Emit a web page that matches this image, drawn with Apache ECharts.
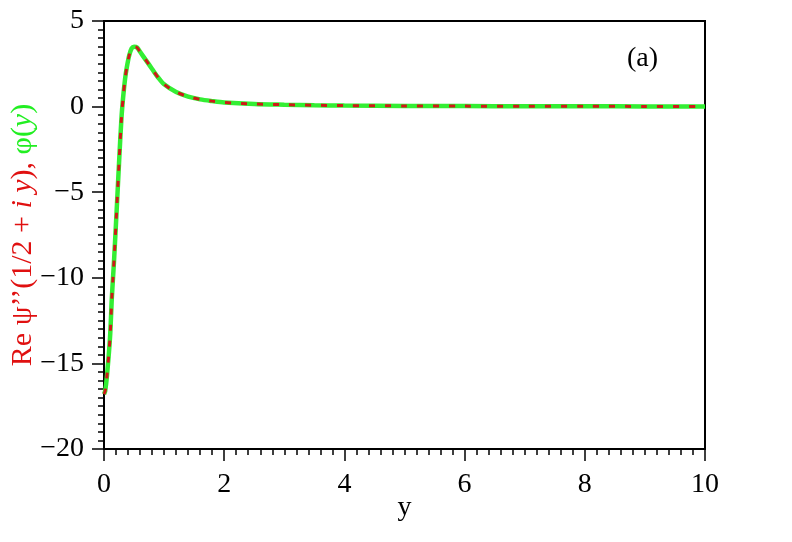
<!DOCTYPE html>
<html>
<head>
<meta charset="utf-8">
<script src="https://cdn.jsdelivr.net/npm/echarts@6/dist/echarts.min.js"></script>
<style>html,body{margin:0;padding:0;background:#fff}#c{width:792px;height:542px}</style>
</head>
<body>
<div id="c"></div>
<script>
// Sample points y (x-axis variable)
const yValues = [0, 0.02, 0.05, 0.1, 0.13, 0.15, 0.17, 0.21, 0.25, 0.29, 0.32, 0.35, 0.38, 0.42, 0.46, 0.5, 0.55, 0.6, 0.7, 0.8, 0.9, 1.0, 1.2, 1.4, 1.6, 1.8, 2.0, 2.5, 3, 3.5, 4, 5, 6, 7, 8, 9, 10];
// Re psi''(1/2 + i y)
const psiValues = [-16.8, -16.6, -15.7, -13.5, -11.2, -10.0, -8.8, -6.1, -3.3, -0.7, 0.6, 1.6, 2.3, 3.0, 3.4, 3.5, 3.45, 3.2, 2.7, 2.2, 1.7, 1.3, 0.85, 0.58, 0.42, 0.32, 0.24, 0.15, 0.11, 0.08, 0.06, 0.04, 0.028, 0.02, 0.016, 0.012, 0.01];
// phi(y), coincides with the curve above
const phiValues = [-16.8, -16.6, -15.7, -13.5, -11.2, -10.0, -8.8, -6.1, -3.3, -0.7, 0.6, 1.6, 2.3, 3.0, 3.4, 3.5, 3.45, 3.2, 2.7, 2.2, 1.7, 1.3, 0.85, 0.58, 0.42, 0.32, 0.24, 0.15, 0.11, 0.08, 0.06, 0.04, 0.028, 0.02, 0.016, 0.012, 0.01];
const xTicks = [0, 2, 4, 6, 8, 10];
const yTicks = [-20, -15, -10, -5, 0, 5];

const FONT = "'Liberation Serif', 'Times New Roman', serif";
const chart = echarts.init(document.getElementById('c'), null, {renderer: 'canvas'});
const pair = (vals) => yValues.map((x, i) => [x, vals[i]]);
chart.setOption({
  animation: false,
  backgroundColor: '#fff',
  title: {
    text: '(a)', left: 622, top: 40,
    textStyle: {fontFamily: FONT, fontSize: 28, fontWeight: 'normal', color: '#000'}
  },
  grid: {left: 104, right: 87, top: 21, bottom: 93, containLabel: false, outerBoundsMode: 'none',
    show: true, borderColor: '#000', borderWidth: 2, backgroundColor: 'transparent'},
  xAxis: {
    type: 'value', min: xTicks[0], max: xTicks[xTicks.length - 1], interval: 2,
    name: 'y', nameLocation: 'middle', nameGap: 45, nameMoveOverlap: false,
    nameTextStyle: {fontFamily: FONT, fontSize: 28, color: '#000'},
    axisLine: {show: true, onZero: false, lineStyle: {color: '#000', width: 2}},
    axisTick: {show: true, inside: false, length: 12, lineStyle: {color: '#000', width: 1.5}},
    minorTick: {show: true, splitNumber: 10, length: 6, lineStyle: {color: '#000', width: 1.5}},
    splitLine: {show: false},
    axisLabel: {fontFamily: FONT, fontSize: 28, color: '#000', margin: 22,
      formatter: v => xTicks.includes(v) ? String(v) : ''}
  },
  yAxis: {
    type: 'value', min: yTicks[0], max: yTicks[yTicks.length - 1], interval: 5,
    name: '{r|Re ψ\u2019\u2019(1/2 + }{ri|i y}{r|), }{g|φ(}{gi|y}{g|)}',
    nameLocation: 'middle', nameGap: 66, nameRotate: 90, nameMoveOverlap: false,
    nameTextStyle: {
      fontFamily: FONT, fontSize: 30,
      rich: {
        r: {fontFamily: FONT, fontSize: 30, color: '#e01010'},
        ri: {fontFamily: FONT, fontSize: 30, color: '#e01010', fontStyle: 'italic'},
        g: {fontFamily: FONT, fontSize: 30, color: '#22ee22'},
        gi: {fontFamily: FONT, fontSize: 30, color: '#22ee22', fontStyle: 'italic'}
      }
    },
    axisLine: {show: true, onZero: false, lineStyle: {color: '#000', width: 2}},
    axisTick: {show: true, inside: false, length: 12, lineStyle: {color: '#000', width: 1.5}},
    minorTick: {show: true, splitNumber: 10, length: 6, lineStyle: {color: '#000', width: 1.5}},
    splitLine: {show: false},
    axisLabel: {fontFamily: FONT, fontSize: 28, color: '#000', margin: 20,
      formatter: v => v < 0 ? '\u2212' + Math.abs(v) : String(v)}
  },
  series: [
    {
      name: 'phi', type: 'line', data: pair(phiValues), smooth: 0.3, showSymbol: false,
      lineStyle: {color: '#33ee33', width: 4.5}
    },
    {
      name: 'psi', type: 'line', data: pair(psiValues), smooth: 0.3, showSymbol: false,
      lineStyle: {color: '#d01818', width: 3, type: [6, 10]}
    }
  ]
});
</script>
</body>
</html>
